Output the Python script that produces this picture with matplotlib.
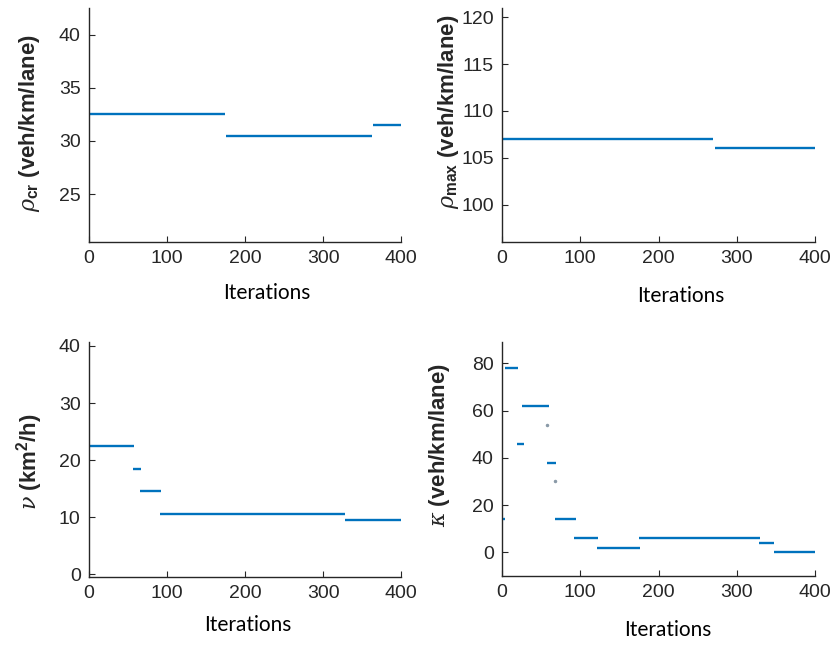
import matplotlib
matplotlib.use("Agg")
import matplotlib.pyplot as plt

# step values: (start iteration, end iteration, value)
rho_cr_start = [0, 175, 364]
rho_cr_end = [174, 362, 400]
rho_cr_val = [32.5, 30.5, 31.5]

rho_max_start = [0, 272]
rho_max_end = [270, 400]
rho_max_val = [107, 106]

nu_start = [0, 56, 65, 91, 328]
nu_end = [57, 67, 92, 328, 400]
nu_val = [22.5, 18.5, 14.5, 10.5, 9.5]

kappa_start = [0, 4, 19, 26, 58, 58, 68, 68, 92, 121, 175, 328, 348]
kappa_end = [4, 20, 28, 60, 58, 69, 68, 94, 122, 176, 330, 348, 400]
kappa_val = [14, 78, 46, 62, 54, 38, 30, 14, 6, 2, 6, 4, 0]

xticks = [0, 100, 200, 300, 400]

plt.rcParams['font.family'] = ['Liberation Sans', 'DejaVu Sans']
plt.rcParams['mathtext.fontset'] = 'custom'
plt.rcParams['mathtext.it'] = 'DejaVu Serif:italic'
plt.rcParams['mathtext.bf'] = 'Liberation Sans:bold'
plt.rcParams['mathtext.rm'] = 'Liberation Sans:bold'

blue = '#0072BD'
grey = '#262626'

fig = plt.figure(figsize=(8.35, 6.46), dpi=100)

panels = [
    # rect, starts, ends, values, ylim, yticks, ylabel, ylabel pos, xlabel pos
    ([0.1066, 0.6254, 0.374, 0.3622], rho_cr_start, rho_cr_end, rho_cr_val,
     (20.5, 42.5), [25, 30, 35, 40], r'$\rho_{\mathbf{cr}}$ (veh/km/lane)', (-0.15, 0.51), (0.57, -0.175)),
    ([0.6012, 0.6254, 0.375, 0.3622], rho_max_start, rho_max_end, rho_max_val,
     (96, 121), [100, 105, 110, 115, 120], r'$\rho_{\mathbf{max}}$ (veh/km/lane)', (-0.13, 0.555), (0.57, -0.19)),
    ([0.1066, 0.1068, 0.374, 0.3638], nu_start, nu_end, nu_val,
     (-0.5, 40.7), [0, 10, 20, 30, 40], r'$\nu$ (km$^{\mathbf{2}}$/h)', (-0.14, 0.49), (0.51, -0.162)),
    ([0.6012, 0.1084, 0.375, 0.3622], kappa_start, kappa_end, kappa_val,
     (-10, 89), [0, 20, 40, 60, 80], r'$\kappa$ (veh/km/lane)', (-0.16, 0.56), (0.53, -0.188)),
]

for rect, s, e, v, ylim, yt, ylab, ylpos, xlpos in panels:
    ax = fig.add_axes(rect)
    ax.hlines(v, s, e, color=blue, linewidth=1.7)
    # single-iteration values show as dots
    dots = [(a, c) for a, b, c in zip(s, e, v) if a == b]
    if dots:
        ax.plot([d[0] for d in dots], [d[1] for d in dots], '.', color='#8a9aa8', ms=3)
    ax.set_xlim(0, 400)
    ax.set_ylim(*ylim)
    ax.set_xticks(xticks)
    ax.set_yticks(yt)
    for side in ['top', 'right']:
        ax.spines[side].set_visible(False)
    for side in ['left', 'bottom']:
        ax.spines[side].set_color(grey)
        ax.spines[side].set_linewidth(1.0)
    ax.tick_params(direction='in', length=4, width=0.8, colors=grey,
                   labelsize=14, pad=6)
    ax.set_xlabel('Iterations', fontsize=15, family='Lato', color='black')
    ax.xaxis.set_label_coords(*xlpos)
    ax.set_ylabel(ylab, fontsize=16, fontweight='bold', color=grey)
    ax.yaxis.set_label_coords(*ylpos)

fig.savefig('out.png', dpi=100)
